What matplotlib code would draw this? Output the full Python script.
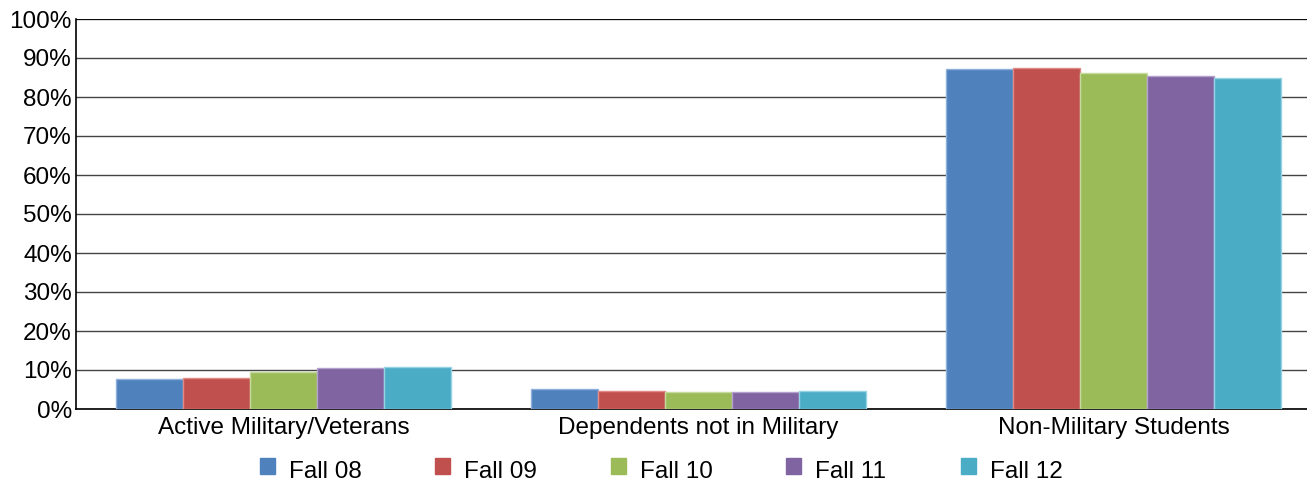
import numpy as np
import matplotlib
matplotlib.use('Agg')
from matplotlib import pyplot as plt

plt.rcParams['font.family'] = ['Liberation Sans', 'DejaVu Sans']

# Data
categories = ['Active Military/Veterans', 'Dependents not in Military', 'Non-Military Students']
series = ['Fall 08', 'Fall 09', 'Fall 10', 'Fall 11', 'Fall 12']
fall08 = [7.6, 5.1, 87.2]
fall09 = [7.9, 4.7, 87.5]
fall10 = [9.6, 4.4, 86.1]
fall11 = [10.5, 4.4, 85.5]
fall12 = [10.8, 4.6, 84.8]
values = [fall08, fall09, fall10, fall11, fall12]
yticks = [0, 10, 20, 30, 40, 50, 60, 70, 80, 90, 100]

colors = ['#4F81BD', '#C0504D', '#9BBB59', '#8064A2', '#4BACC6']
edges = ['#8FB0DA', '#E08A88', '#C6DA9E', '#B3A0CC', '#94D3E3']

W, H = 1307, 484
fig = plt.figure(figsize=(W/100, H/100), dpi=100)
ax = fig.add_axes([76/W, 1-409/H, 1245/W, 390/H])

x = np.arange(len(categories))
w = 0.161
for i, vals in enumerate(values):
    ax.bar(x + (i-2)*w, vals, w, color=colors[i], edgecolor=edges[i], linewidth=1, zorder=3)

ax.set_xlim(-0.5, 2.5)
ax.set_ylim(0, 100)
ax.set_yticks(yticks)
ax.set_yticklabels(['%d%%' % t for t in yticks], fontsize=17.5)
ax.set_xticks(x)
ax.set_xticklabels(categories, fontsize=17.5)
ax.tick_params(axis='both', length=0)
ax.tick_params(axis='x', pad=6)
ax.tick_params(axis='y', pad=3)
ax.yaxis.grid(True, color='#444444', linewidth=1)
ax.set_axisbelow(True)
ax.axhline(100, color='black', linewidth=1.2, zorder=2)
for s in ['top', 'right']:
    ax.spines[s].set_visible(False)
ax.spines['left'].set_linewidth(1.2)
ax.spines['bottom'].set_linewidth(1.2)

# legend drawn by hand in figure coords
for i, (name, c) in enumerate(zip(series, colors)):
    lx = (267 + 175.3*i) / W
    fig.patches.append(plt.Rectangle((lx - 7/W, 1-474/H), 15/W, 16/H,
                                     transform=fig.transFigure, color=c))
    fig.text(lx + 22/W, 1-472/H, name, fontsize=17.5, va='center', ha='left')

fig.savefig('out.png', dpi=100)
